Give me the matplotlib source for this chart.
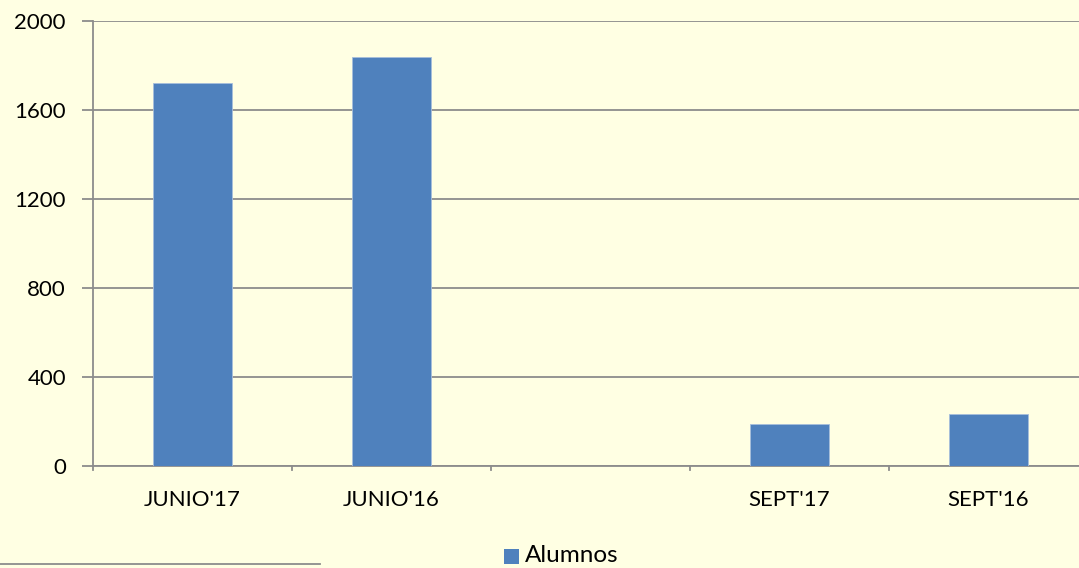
import matplotlib
matplotlib.use("Agg")
import matplotlib.pyplot as plt
from matplotlib.lines import Line2D
from matplotlib.patches import Rectangle

categories = ["JUNIO'17", "JUNIO'16", "", "SEPT'17", "SEPT'16"]
values = [1720, 1840, 0, 187, 234]
series_name = "Alumnos"
yticks = [0, 400, 800, 1200, 1600, 2000]

bg = "#FFFFE3"
bar_color = "#4F81BD"
grid_color = "#8C8C8C"
font = ["Lato", "DejaVu Sans"]
fs = 16

W, H = 1079, 568
fig = plt.figure(figsize=(W / 100, H / 100), dpi=100, facecolor=bg)
ax = fig.add_axes([93 / W, 1 - 466 / H, 995 / W, 445 / H], facecolor=bg)

x = list(range(len(categories)))
vals = [v if v else float("nan") for v in values]
ax.bar(x, vals, width=0.4, color=bar_color, edgecolor="#A7BEDC", linewidth=0.6, zorder=3)

ax.set_xlim(-0.5, len(categories) - 0.5)
ax.set_ylim(0, 2000)
ax.set_yticks(yticks)
ax.set_yticklabels([str(t) for t in yticks], fontfamily=font, fontsize=fs, color="black")
ax.yaxis.grid(True, color=grid_color, linewidth=1.3, zorder=0)
ax.tick_params(axis="y", length=8, width=1.3, color=grid_color, pad=11.5)

ax.set_xticks(x)
ax.set_xticklabels(categories, fontfamily=font, fontsize=fs, color="black")
ax.tick_params(axis="x", length=0, pad=17)
for b in [i - 0.5 for i in range(len(categories) + 1)]:
    ax.plot([b, b], [0, -18], color=grid_color, linewidth=1.3, clip_on=False)
for s in ["top", "right"]:
    ax.spines[s].set_visible(False)
for s in ["left", "bottom"]:
    ax.spines[s].set_color(grid_color)
    ax.spines[s].set_linewidth(1.3)

# legend
fig.patches.append(Rectangle((504 / W, 1 - 564 / H), 15 / W, 15 / H, transform=fig.transFigure,
                             facecolor=bar_color, edgecolor="none"))
fig.text(525 / W, 1 - 556 / H, series_name, fontfamily=font, fontsize=17.5, va="center", ha="left")

# bottom-left rule
fig.add_artist(Line2D([0, 320 / W], [1 - 563.5 / H, 1 - 563.5 / H], color=grid_color,
                      linewidth=1.3, transform=fig.transFigure))

fig.savefig("out.png", dpi=100, facecolor=bg)
